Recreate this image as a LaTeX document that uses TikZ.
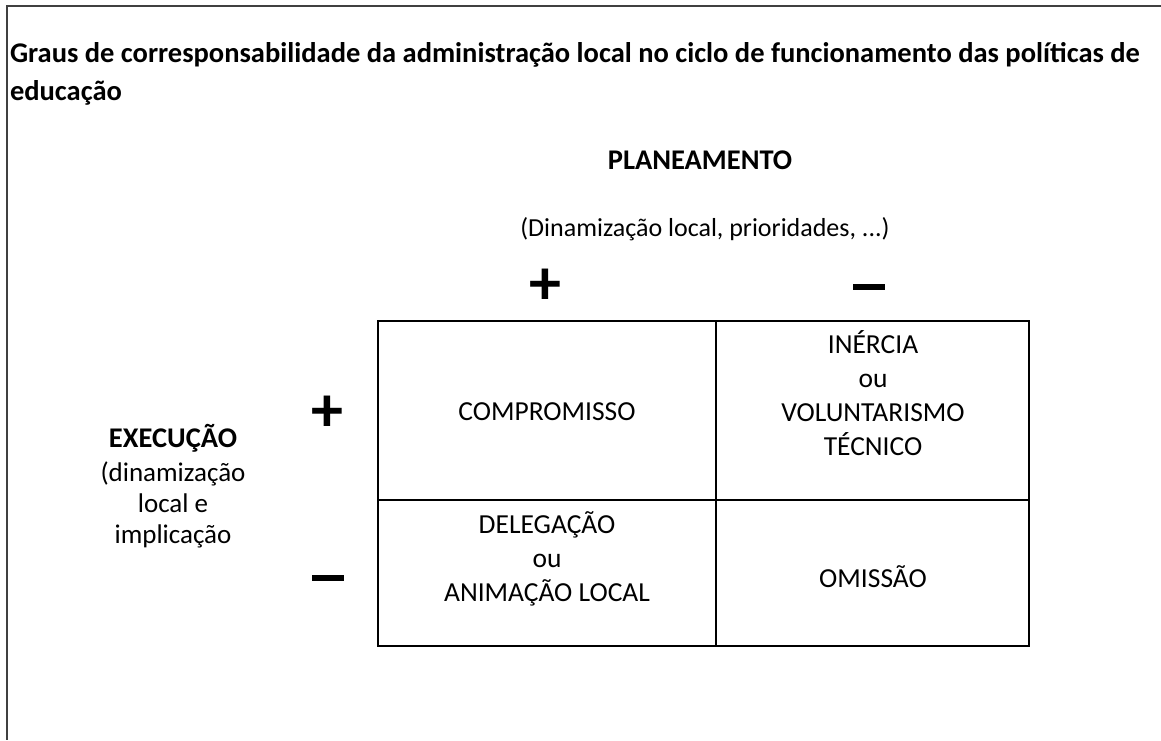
\documentclass[tikz,border=0pt]{standalone}
\usepackage{fontspec}
\setmainfont{Carlito}
\usepackage{tikz}
\usetikzlibrary{positioning}

\begin{document}
\begin{tikzpicture}[
        x=1pt, y=-1pt,
        every node/.style={inner sep=0pt, outer sep=0pt, align=center,
            font=\fontsize{27.5}{34}\selectfont},
        cellbox/.style={draw, line width=2.2pt},
        heading/.style={font=\fontsize{28.5}{38}\selectfont\bfseries},
        sign/.style={font=\fontsize{64}{64}\selectfont\bfseries}
    ]
    \useasboundingbox (0,0) rectangle (1161,740);

    % Outer frame (top and left only)
    \draw[line width=2pt, black!75] (1161,6) -- (7,6) -- (7,740);

    % Title
    \node[heading, anchor=base west, align=left] (title) at (10,100)
        {Graus de corresponsabilidade da administração local no ciclo de funcionamento das políticas de\\educação};

    % Planeamento axis
    \node[heading] (plan) at (700,160) {PLANEAMENTO};
    \node[font=\fontsize{26}{31}\selectfont] (plandesc) at (705,229) {(Dinamização local, prioridades, ...)};
    \node[sign] (planplus) at (545,287) {+};
    \node (planminus) at (869,287) {\rule{32pt}{6pt}};

    % Execucao axis
    \node[heading] (exec) at (173,438) {EXECUÇÃO};
    \node[below=10pt of exec, font=\fontsize{27}{31}\selectfont] (execdesc) {(dinamização\\local e\\implicação};
    \node[sign] (execplus) at (327,414) {+};
    \node (execminus) at (328,578) {\rule{32pt}{6pt}};

    % Grid
    \coordinate (tl) at (378,321);
    \coordinate (br) at (1029,646);
    \draw[cellbox] (tl) rectangle (br);
    \draw[cellbox] (716,321) -- (716,646);
    \draw[cellbox] (378,500) -- (1029,500);

    % Cells
    \node (compromisso) at (547,412) {COMPROMISSO};
    \node (inercia) at (873,393) {INÉRCIA\\ou\\VOLUNTARISMO\\TÉCNICO};
    \node (delegacao) at (547,559) {DELEGAÇÃO\\ou\\ANIMAÇÃO LOCAL};
    \node (omissao) at (873,577) {OMISSÃO};

\end{tikzpicture}
\end{document}
